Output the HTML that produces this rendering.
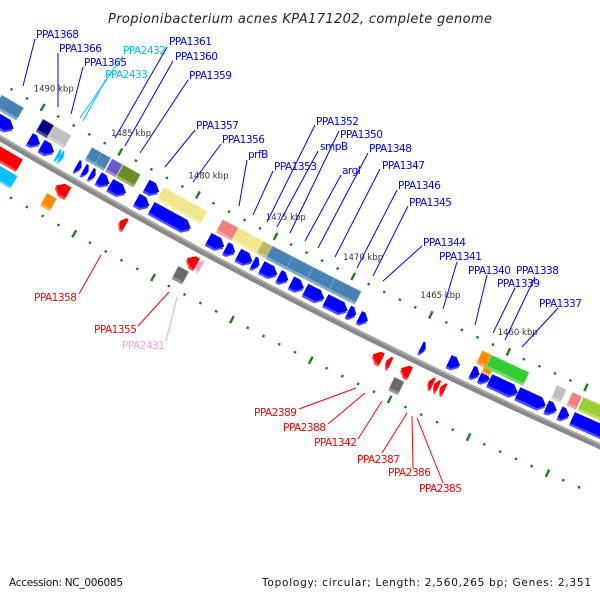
<!DOCTYPE html>
<html><head><meta charset="utf-8">
<style>
html,body{margin:0;padding:0;background:#fff;}
svg{display:block;font-family:"DejaVu Sans","Liberation Sans",sans-serif;}
.lab{font-size:10.5px;letter-spacing:-0.5px;}
</style></head>
<body>
<svg id="map" width="600" height="600" viewBox="0 0 600 600" xmlns="http://www.w3.org/2000/svg">
<rect x="0" y="0" width="600" height="600" fill="#fff"/>
<text x="300" y="23" text-anchor="middle" font-size="13" font-style="italic" fill="#222" textLength="384">Propionibacterium acnes KPA171202, complete genome</text>
<g id="ticks"></g>
<g id="backbone"></g>
<g id="genes"></g>
<g id="labels"></g>
<text x="9" y="586" font-size="10.5" fill="#111" textLength="114">Accession: NC_006085</text>
<text x="262" y="586" font-size="10.5" fill="#111" textLength="329">Topology: circular; Length: 2,560,265 bp; Genes: 2,351</text>
</svg>
<script>
// ---- data ----
const tickStart = 1453;
const tickEnd = 1493;
const tickLabelKbp = [1490, 1485, 1480, 1475, 1470, 1465, 1460];
// genes: start kbp, end kbp (start > end in this view)
const geneStart = [1493,1489.75,1489.0,1488.0,1487.8,1486.75,1486.3,1485.85,1485.35,1484.6,1482.9,1481.95,1478.3,1477.2,1476.4,1475.45,1474.9,1473.8,1473.0,1472.1,1470.8,1469.35,1468.65,1464.7,1462.9,1461.45,1460.9,1460.3,1458.5,1456.65,1455.8,1455.0,
  1492.3,1489.65,1488.95,1486.5,1485.9,1485.2,1484.5,1482.8,1481.9,1478.1,1477.1,1476.3,1475.5,1474.9,1473.6,1472.3,1470.9,1461.4,1460.9,1460.8,1456.6,1455.6,1454.9,
  1493,1487.2,1483.15,1478.85,1478.2,1467.0,1466.15,1465.2,1463.45,1463.1,1462.7,
  1493,1487.4,1479.05,1465.3];
const geneEnd = [1490.8,1489.1,1488.2,1487.8,1487.6,1486.45,1486.0,1485.55,1484.65,1483.6,1482.1,1479.45,1477.3,1476.6,1475.5,1475.05,1473.9,1473.2,1472.2,1470.9,1469.4,1468.85,1468.1,1464.4,1462.2,1460.95,1460.3,1458.5,1456.7,1456.0,1455.2,1452.0,
  1490.9,1488.95,1487.85,1485.9,1485.3,1484.55,1483.4,1482.0,1479.1,1477.1,1476.3,1475.5,1474.9,1473.6,1472.3,1470.9,1469.2,1460.8,1460.4,1458.4,1456.0,1455.0,1452.0,
  1489.5,1486.4,1482.75,1478.2,1477.9,1466.4,1465.85,1464.6,1463.15,1462.8,1462.4,
  1489.3,1486.8,1478.4,1464.7];
// row: 0 inner forward, 1 outer forward, -1 inner reverse, -2 outer reverse, 0.6 sub-row
const geneRow = [0,0,0,0,0,0,0,0,0,0,0,0,0,0,0,0,0,0,0,0,0,0,0,0,0,0,0,0,0,0,0,0,
  1,1,1,1,1,1,1,1,1,1,1,1,1,1,1,1,1,1,0.6,1,1,1,1,
  -1,-1,-1,-1,-1,-1,-1,-1,-1,-1,-1,
  -2,-2,-2,-2];
const geneColor = ['#0000ff','#0000ff','#0000ff','#00bfff','#00bfff','#0000ff','#0000ff','#0000ff','#0000ff','#0000ff','#0000ff','#0000ff','#0000ff','#0000ff','#0000ff','#0000ff','#0000ff','#0000ff','#0000ff','#0000ff','#0000ff','#0000ff','#0000ff','#0000ff','#0000ff','#0000ff','#0000ff','#0000ff','#0000ff','#0000ff','#0000ff','#0000ff',
  '#4682b4','#000080','#c0c0c0','#4682b4','#4682b4','#6a5acd','#6b8e23','#0000ff','#f0e68c','#f08080','#f0e68c','#f0e68c','#bdb76b','#4682b4','#4682b4','#4682b4','#4682b4','#ff8c00','#ff8c00','#32cd32','#c0c0c0','#f08080','#9acd32',
  '#ff0000','#ff0000','#ff0000','#ff0000','#ff9fcf','#ff0000','#ff0000','#ff0000','#ff0000','#ff0000','#ff0000',
  '#00bfff','#ff8c00','#696969','#696969'];
const geneShape = ['a','a','a','a','a','a','a','a','a','a','a','a','a','a','a','a','a','a','a','a','a','a','a','a','a','a','a','a','a','a','a','a',
  'b','b','b','b','b','b','b','a','b','b','b','b','b','b','b','b','b','b','b','b','b','b','b',
  'a','a','a','a','a','a','a','a','a','a','a',
  'a','b','b','b'];

// ---- geometry ----
const NS = 'http://www.w3.org/2000/svg';
function foot(k){ return 19 + (1490 - k) * 15.65; }
function PF(f, d){
  const by = 137 + 0.5867 * f - 0.000122 * f * f;
  const m = 0.5867 - 0.000244 * f;
  const t = Math.atan(m);
  return [f + d * Math.sin(t), by - d * Math.cos(t)];
}
function pts(arr){ return arr.map(p => p[0].toFixed(1) + ',' + p[1].toFixed(1)).join(' '); }
const rowD = {'0':[8,20],'1':[25,37],'0.6':[19,26],'-1':[-8,-20],'-2':[-25,-37]};
function shade(hex, amt){
  const n = parseInt(hex.slice(1),16);
  let r=(n>>16)&255,g=(n>>8)&255,b=n&255;
  r=Math.round(r+(255-r)*amt);g=Math.round(g+(255-g)*amt);b=Math.round(b+(255-b)*amt);
  return 'rgb('+r+','+g+','+b+')';
}

// backbone
const bb = document.getElementById('backbone');
const topPts=[], botPts=[];
for(let f=-30; f<=640; f+=10){ topPts.push(PF(f,2)); botPts.push(PF(f,-4)); }
const band = document.createElementNS(NS,'polygon');


band.setAttribute('points', pts(topPts.concat(botPts.reverse())));
band.setAttribute('fill', '#888');
bb.appendChild(band);
const hl = [];
for(let f=-30; f<=640; f+=10){ hl.push(PF(f,1)); }
const hi = document.createElementNS(NS,'polyline');


hi.setAttribute('points', pts(hl));
hi.setAttribute('fill', 'none');
hi.setAttribute('stroke', '#aaa');
hi.setAttribute('stroke-width', '2');
bb.appendChild(hi);

// ticks
const tg = document.getElementById('ticks');
for(let k=tickStart; k<=tickEnd; k++){
  const f = foot(k);
  const major = (k % 5 === 0);
  [47,-47].forEach(d=>{
    const a = PF(f, d + (major?4:1.2));
    const b = PF(f, d - (major?4:1.2));
    const ln = document.createElementNS(NS,'line');
    
    
    ln.setAttribute('x1',a[0]);ln.setAttribute('y1',a[1]);ln.setAttribute('x2',b[0]);ln.setAttribute('y2',b[1]);
    ln.setAttribute('stroke','#1e7d1e');
    ln.setAttribute('stroke-width', major?2.4:2.4);
    tg.appendChild(ln);
  });
}
tickLabelKbp.forEach(k=>{
  const p = PF(foot(k), 69);
  const tx = document.createElementNS(NS,'text');
  
  
  tx.setAttribute('x', p[0]); tx.setAttribute('y', p[1]+3);
  tx.setAttribute('text-anchor','middle');
  tx.setAttribute('font-size','8.5');
  tx.setAttribute('fill','#333');
  tx.textContent = k + ' kbp';
  tg.appendChild(tx);
});

// genes
const gg = document.getElementById('genes');
function shapePts(i, dShift){
  const fA = foot(geneStart[i]), fB = foot(geneEnd[i]);
  const dd = rowD[String(geneRow[i])];
  const d0 = dd[0]+dShift, d1 = dd[1]+dShift, dm = (d0+d1)/2;
  if(geneShape[i]==='b'){
    return [PF(fA,d0),PF(fB,d0),PF(fB,d1),PF(fA,d1)];
  }
  const h = Math.min(6,(fB-fA)*0.6);
  if(geneRow[i] >= 0){
    return [PF(fA,d0),PF(fB-h,d0),PF(fB,dm),PF(fB-h,d1),PF(fA,d1)];
  }
  return [PF(fB,d0),PF(fA+h,d0),PF(fA,dm),PF(fA+h,d1),PF(fB,d1)];
}
for(let i=0;i<geneStart.length;i++){
  const down = geneRow[i] >= 0 ? -2.5 : -2.5;
  const sh = document.createElementNS(NS,'polygon');
  
  
  sh.setAttribute('points', pts(shapePts(i, down)));
  sh.setAttribute('fill', shade(geneColor[i], 0.3));
  gg.appendChild(sh);
  const g = document.createElementNS(NS,'polygon');
  
  
  g.setAttribute('points', pts(shapePts(i, 0)));
  g.setAttribute('fill', geneColor[i]);
  if(geneShape[i]==='b'){ g.setAttribute('stroke', shade(geneColor[i],0.35)); g.setAttribute('stroke-width','0.6'); }
  gg.appendChild(g);
}

// labels: text, x, y, line x1,y1,x2,y2, color
const labText = ['PPA1368','PPA1366','PPA1365','PPA2432','PPA2433','PPA1361','PPA1360','PPA1359','PPA1357','PPA1356','prfB','PPA1353','PPA1352','smpB','PPA1350','argI','PPA1348','PPA1347','PPA1346','PPA1345','PPA1344','PPA1341','PPA1340','PPA1338','PPA1339','PPA1337',
  'PPA1358','PPA1355','PPA2431','PPA2389','PPA2388','PPA1342','PPA2387','PPA2386','PPA2385'];
const labX = [36,59,84,123,105,169,175,189,196,222,248,274,316,320,340,342,369,382,398,409,423,439,468,516,497,539, 34,94,122,254,283,314,357,388,419];
const labY = [38,52,66,54,78,45,60,79,129,143,158,170,125,150,138,174,152,169,189,206,246,260,274,274,287,307, 301,333,349,416,431,446,463,476,492];
const labLine = [[35,39,23,86],[58,53,58,107],[83,67,71,114],[123,56,80,118],[106,79,83,121],[167,47,115,138],[173,61,125,146],[188,80,140,153],[195,130,165,167],[221,144,193,182],[247,160,239,206],[273,171,253,215],[315,125,267,222],[318,151,277,227],[339,131,290,233],[341,175,305,241],[368,153,318,248],[380,169,335,257],[397,190,357,268],[408,206,373,276],[422,246,383,281],[457,262,443,309],[487,275,475,325],[535,277,505,340],[515,288,493,333],[558,308,522,347],
  [79,294,101,255],[138,326,169,292],[166,341,177,297],[299,409,356,388],[328,424,365,393],[358,439,382,401],[382,453,407,413],[413,468,412,416],[443,483,417,418]];
const labColor = ['#0000ff','#0000ff','#0000ff','#00bfff','#00bfff','#0000ff','#0000ff','#0000ff','#0000ff','#0000ff','#0000ff','#0000ff','#0000ff','#0000ff','#0000ff','#0000ff','#0000ff','#0000ff','#0000ff','#0000ff','#0000ff','#0000ff','#0000ff','#0000ff','#0000ff','#0000ff',
  '#ff0000','#ff0000','#ff9fcf','#ff0000','#ff0000','#ff0000','#ff0000','#ff0000','#ff0000'];
const lg = document.getElementById('labels');
for(let i=0;i<labText.length;i++){
  const L = labLine[i];
  const ln = document.createElementNS(NS,'line');
  
  
  ln.setAttribute('x1',L[0]);ln.setAttribute('y1',L[1]);ln.setAttribute('x2',L[2]);ln.setAttribute('y2',L[3]);
  ln.setAttribute('stroke', labColor[i]);
  ln.setAttribute('stroke-width','1');
  lg.appendChild(ln);
  const tx = document.createElementNS(NS,'text');
  
  
  tx.setAttribute('class','lab');
  tx.setAttribute('x', labX[i]); tx.setAttribute('y', labY[i]);
  tx.setAttribute('fill', labColor[i]);
  tx.textContent = labText[i];
  lg.appendChild(tx);
}
</script>
</body></html>
